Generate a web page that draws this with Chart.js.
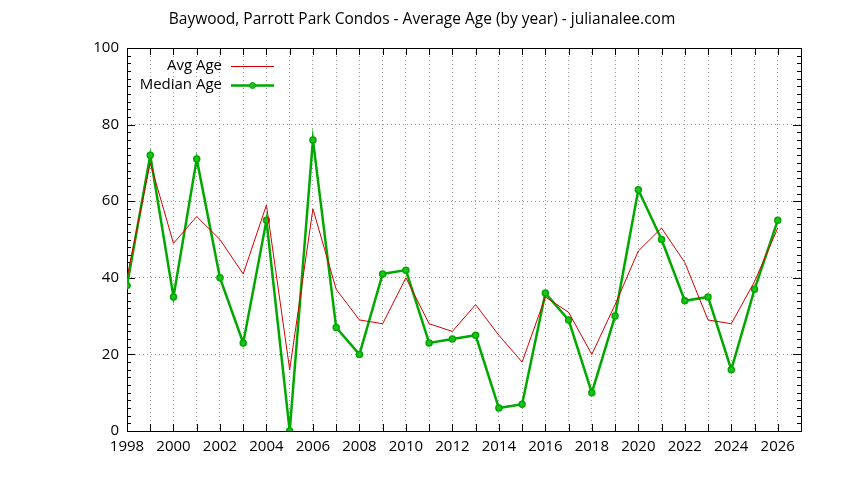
<!DOCTYPE html>
<html><head><meta charset="utf-8">
<script src="https://cdn.jsdelivr.net/npm/chart.js@4"></script>
<style>html,body{margin:0;padding:0;background:#fff}canvas{display:block}</style>
</head><body>
<canvas id="c" width="844" height="480"></canvas>
<script>
const chartTitle = 'Baywood, Parrott Park Condos - Average Age (by year) - julianalee.com';
const seriesNames = ['Avg Age', 'Median Age'];
const years = [1998,1999,2000,2001,2002,2003,2004,2005,2006,2007,2008,2009,2010,2011,2012,2013,2014,2015,2016,2017,2018,2019,2020,2021,2022,2023,2024,2025,2026];
const avgAge = [40,70,49,56,50,41,59,16,58,37,29,28,40,28,26,33,25,18,35,31,20,33,47,53,44,29,28,39,53];
const medianAge = [38,72,35,71,40,23,55,0,76,27,20,41,42,23,24,25,6,7,36,29,10,30,63,50,34,35,16,37,55];
const xTickLabels = ['1998','2000','2002','2004','2006','2008','2010','2012','2014','2016','2018','2020','2022','2024','2026'];
const yTickLabels = ['0','20','40','60','80','100'];

const RED = '#d40000';
const GREEN = '#00a800';
const FONT = 'Open Sans';

Chart.defaults.font.family = FONT;
Chart.defaults.font.size = 15;
Chart.defaults.color = '#000';

const frame = {
  id: 'frame',
  beforeDatasetsDraw(chart) {
    const {ctx, chartArea: a, scales: {x, y}} = chart;
    ctx.save();
    ctx.strokeStyle = '#000';
    ctx.lineWidth = 1;
    ctx.beginPath();
    x.ticks.forEach(t => {
      const px = Math.round(x.getPixelForValue(t.value)) + 0.5;
      ctx.moveTo(px, a.bottom); ctx.lineTo(px, a.bottom - 7);
      ctx.moveTo(px, a.top); ctx.lineTo(px, a.top + 7);
    });
    for (let v = y.min; v <= y.max; v += 2) {
      const py = Math.round(y.getPixelForValue(v)) + 0.5;
      const len = (v % 20 === 0) ? 8 : 4;
      ctx.moveTo(a.left, py); ctx.lineTo(a.left + len, py);
      ctx.moveTo(a.right, py); ctx.lineTo(a.right - len, py);
    }
    ctx.stroke();
    ctx.strokeRect(Math.round(a.left) + 0.5, Math.round(a.top) + 0.5, Math.round(a.right - a.left), Math.round(a.bottom - a.top));
    ctx.restore();
  },
  afterDraw(chart) {
    const ctx = chart.ctx;
    const a = chart.chartArea;
    ctx.save();
    ctx.font = '15px "' + FONT + '"';
    ctx.textAlign = 'right';
    ctx.textBaseline = 'middle';
    ctx.fillStyle = '#000';
    const textRight = a.left + 95, lx0 = a.left + 104, lx1 = a.left + 147;
    const rows = [a.top + 18, a.top + 37];
    chart.data.datasets.forEach((ds, i) => {
      const yy = rows[i];
      ctx.fillText(ds.label, textRight, yy);
      ctx.strokeStyle = ds.borderColor;
      ctx.lineWidth = ds.borderWidth;
      ctx.beginPath(); ctx.moveTo(lx0, yy + 0.5); ctx.lineTo(lx1, yy + 0.5); ctx.stroke();
      if (ds.pointRadius > 0) {
        ctx.fillStyle = ds.pointBackgroundColor;
        ctx.strokeStyle = ds.pointBorderColor;
        ctx.lineWidth = 1;
        ctx.beginPath(); ctx.arc((lx0 + lx1) / 2, yy + 0.5, ds.pointRadius, 0, Math.PI * 2); ctx.fill(); ctx.stroke();
        ctx.fillStyle = '#000';
      }
    });
    ctx.restore();
  }
};

new Chart(document.getElementById('c'), {
  type: 'line',
  data: {
    datasets: [
      {
        label: seriesNames[0],
        data: years.map((yr, i) => ({x: yr, y: avgAge[i]})),
        borderColor: RED, backgroundColor: RED, borderWidth: 1,
        pointRadius: 0, tension: 0, fill: false
      },
      {
        label: seriesNames[1],
        data: years.map((yr, i) => ({x: yr, y: medianAge[i]})),
        borderColor: GREEN, backgroundColor: GREEN, borderWidth: 2.5,
        pointRadius: 3, pointBackgroundColor: '#20c020', pointBorderColor: GREEN, pointBorderWidth: 1.5,
        tension: 0, fill: false
      }
    ]
  },
  options: {
    responsive: false,
    animation: false,
    devicePixelRatio: 1,
    layout: {padding: 0},
    plugins: {
      legend: {display: false},
      tooltip: {enabled: false},
      title: {
        display: true, text: chartTitle, color: '#000',
        font: {family: FONT, size: 15.5, weight: 'normal'},
        padding: {top: 10, bottom: 19.4}
      }
    },
    scales: {
      x: {
        type: 'linear', min: 1998, max: 2027,
        ticks: {
          stepSize: 1, autoSkip: false, maxRotation: 0, padding: 7,
          callback: v => xTickLabels.includes(String(v)) ? String(v) : ''
        },
        grid: {color: '#a0a0a0', lineWidth: 1, drawTicks: false},
        border: {display: false, dash: [1, 3]},
        afterFit: s => { s.height = 49; }
      },
      y: {
        type: 'linear', min: 0, max: 100,
        ticks: {
          stepSize: 20, padding: 8,
          callback: v => yTickLabels.includes(String(v)) ? String(v) : ''
        },
        grid: {color: '#a0a0a0', lineWidth: 1, drawTicks: false},
        border: {display: false, dash: [1, 3]},
        afterFit: s => { s.width = 127; }
      },
      y2: {
        type: 'linear', position: 'right', min: 0, max: 100,
        ticks: {display: false},
        grid: {display: false, drawTicks: false},
        border: {display: false},
        afterFit: s => { s.width = 43; }
      }
    }
  },
  plugins: [frame]
});
</script>
</body></html>
